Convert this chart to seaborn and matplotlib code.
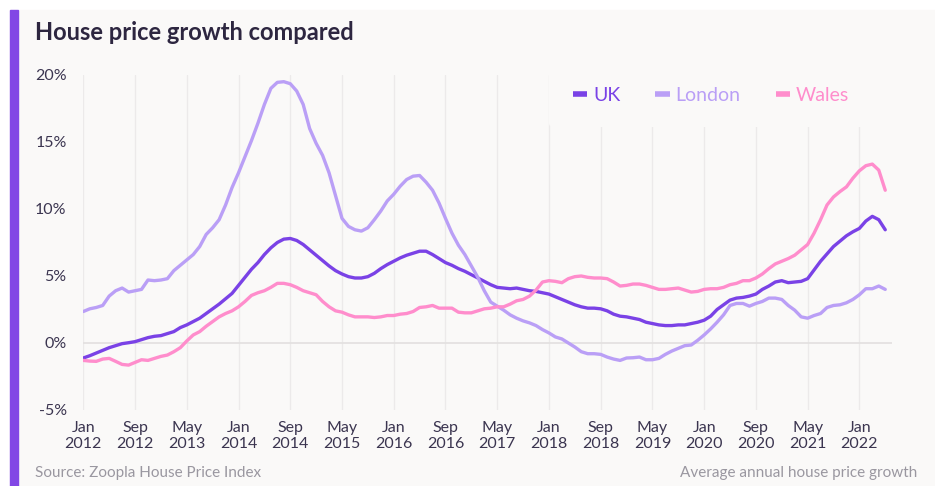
import numpy as np
import pandas as pd
import seaborn as sns
import matplotlib.pyplot as plt
from matplotlib.lines import Line2D
from matplotlib.patches import Rectangle
from matplotlib.ticker import PercentFormatter

# Annual house price growth (%), monthly from Jan 2012 to May 2022
uk = [-1.12, -0.95, -0.75, -0.55, -0.35, -0.2, -0.05, 0.02, 0.1, 0.25, 0.4, 0.5, 0.55, 0.7, 0.85,
      1.15, 1.35, 1.6, 1.85, 2.2, 2.55, 2.9, 3.3, 3.7, 4.3, 4.9, 5.5, 6.0, 6.6, 7.1, 7.5, 7.75, 7.8,
      7.65, 7.35, 6.95, 6.55, 6.15, 5.75, 5.4, 5.15, 4.95, 4.85, 4.85, 4.95, 5.2, 5.55, 5.85, 6.1,
      6.35, 6.55, 6.7, 6.85, 6.85, 6.6, 6.3, 6.0, 5.8, 5.55, 5.35, 5.1, 4.85, 4.6, 4.35, 4.15,
      4.1, 4.05, 4.1, 4.0, 3.9, 3.85, 3.75, 3.65, 3.45, 3.25, 3.05, 2.85, 2.7, 2.6, 2.6, 2.55,
      2.4, 2.15, 2.0, 1.95, 1.85, 1.75, 1.55, 1.45, 1.35, 1.3, 1.3, 1.35, 1.35, 1.45, 1.55,
      1.7, 2.0, 2.5, 2.85, 3.2, 3.35, 3.4, 3.5, 3.65, 4.0, 4.25, 4.55, 4.65, 4.5, 4.55, 4.6,
      4.8, 5.45, 6.1, 6.65, 7.2, 7.6, 8.0, 8.3, 8.55, 9.1, 9.45, 9.2, 8.45]
london = [2.35, 2.55, 2.65, 2.8, 3.5, 3.9, 4.1, 3.8, 3.9, 4.0, 4.7, 4.65, 4.7, 4.8, 5.4, 5.8,
          6.2, 6.6, 7.2, 8.1, 8.6, 9.2, 10.3, 11.6, 12.7, 13.9, 15.1, 16.4, 17.8, 19.0, 19.45,
          19.5, 19.35, 18.8, 17.8, 16.0, 14.9, 14.0, 12.7, 11.0, 9.3, 8.7, 8.45, 8.35, 8.6, 9.2,
          9.85, 10.6, 11.1, 11.7, 12.2, 12.45, 12.5, 12.0, 11.4, 10.45, 9.3, 8.2, 7.3, 6.6, 5.75,
          4.9, 3.9, 3.05, 2.75, 2.45, 2.1, 1.85, 1.65, 1.5, 1.3, 1.0, 0.75, 0.45, 0.3, 0.0, -0.3,
          -0.65, -0.8, -0.8, -0.85, -1.05, -1.2, -1.3, -1.12, -1.1, -1.05, -1.25, -1.25, -1.15,
          -0.85, -0.6, -0.4, -0.2, -0.15, 0.2, 0.6, 1.05, 1.55, 2.1, 2.8, 2.95, 2.95, 2.75, 2.95,
          3.1, 3.35, 3.35, 3.25, 2.8, 2.45, 1.95, 1.85, 2.05, 2.2, 2.65, 2.8, 2.85, 3.0, 3.25,
          3.6, 4.05, 4.05, 4.25, 4.0]
wales = [-1.3, -1.35, -1.37, -1.2, -1.15, -1.37, -1.6, -1.65, -1.45, -1.25, -1.3, -1.15, -1.0,
         -0.9, -0.65, -0.35, 0.15, 0.6, 0.85, 1.25, 1.6, 1.95, 2.2, 2.4, 2.7, 3.1, 3.55, 3.75,
         3.9, 4.15, 4.45, 4.45, 4.35, 4.15, 3.9, 3.75, 3.6, 3.1, 2.7, 2.4, 2.3, 2.1, 1.95, 1.95,
         1.95, 1.9, 1.95, 2.05, 2.05, 2.15, 2.2, 2.35, 2.65, 2.7, 2.8, 2.6, 2.6, 2.6, 2.3, 2.25,
         2.25, 2.4, 2.55, 2.6, 2.7, 2.7, 2.9, 3.15, 3.25, 3.5, 3.95, 4.55, 4.65, 4.6, 4.5, 4.8,
         4.95, 5.0, 4.9, 4.85, 4.85, 4.8, 4.55, 4.25, 4.3, 4.4, 4.4, 4.3, 4.15, 4.0, 4.0, 4.05,
         4.1, 3.95, 3.8, 3.85, 4.0, 4.05, 4.05, 4.15, 4.35, 4.45, 4.65, 4.65, 4.85, 5.15, 5.55,
         5.9, 6.1, 6.3, 6.55, 6.95, 7.35, 8.2, 9.2, 10.3, 10.9, 11.3, 11.65, 12.3, 12.85, 13.23,
         13.35, 12.9, 11.4]
regions = ["UK", "London", "Wales"]
tick_labels = ["Jan\n2012", "Sep\n2012", "May\n2013", "Jan\n2014", "Sep\n2014", "May\n2015",
               "Jan\n2016", "Sep\n2016", "May\n2017", "Jan\n2018", "Sep\n2018", "May\n2019",
               "Jan\n2020", "Sep\n2020", "May\n2021", "Jan\n2022"]

colors = {"UK": "#7a42e6", "London": "#ba9ff6", "Wales": "#ff8dcc"}
bg = "#faf9f8"
text_col = "#3b3550"

months = np.arange(len(uk))
df = pd.DataFrame({
    "month": np.tile(months, 3),
    "growth": uk + london + wales,
    "region": np.repeat(regions, len(uk)),
})

sns.set_theme(style="white")
plt.rcParams['font.family'] = ['Lato', 'DejaVu Sans']
plt.rcParams['axes.unicode_minus'] = False

fig = plt.figure(figsize=(9.35, 4.86), dpi=100)
fig.patch.set_facecolor("white")
fig.patches.append(Rectangle((18 / 935, 0), 1, 476 / 486, transform=fig.transFigure,
                             color=bg, zorder=-10))
fig.patches.append(Rectangle((10 / 935, 0), 8 / 935, 476 / 486, transform=fig.transFigure,
                             color="#8247e5", zorder=-9))

ax = fig.add_axes([0.0891, 0.1564, 0.8646, 0.6893])
ax.set_facecolor(bg)

sns.lineplot(data=df, x="month", y="growth", hue="region", palette=colors,
             linewidth=2.4, ax=ax, legend=False)

ax.set_xlim(0, 125)
ax.set_ylim(-5, 20)
ax.set_xticks(range(0, 121, 8))
ax.set_xticklabels(tick_labels)
ax.set_yticks([-5, 0, 5, 10, 15, 20])
ax.yaxis.set_major_formatter(PercentFormatter(decimals=0))
ax.tick_params(axis="both", length=0, labelsize=11.5, colors=text_col)
ax.tick_params(axis="y", pad=12)
ax.tick_params(axis="x", pad=8)
ax.set_xlabel("")
ax.set_ylabel("")
ax.grid(axis="x", color="#eceaea", linewidth=1)
ax.set_axisbelow(True)
ax.axhline(0, color="#e4e1e1", linewidth=1.3, zorder=1)
for s in ax.spines.values():
    s.set_visible(False)

handles = [Line2D([], [], color=colors[r], lw=4, solid_capstyle="butt") for r in regions]
leg = ax.legend(handles, regions, ncol=3, loc="center", bbox_to_anchor=(0.7765, 0.94),
                frameon=True, facecolor=bg, edgecolor="none", framealpha=1, fontsize=14,
                handlelength=0.75, handletextpad=0.3, columnspacing=1.8, borderpad=1.2)
for txt, r in zip(leg.get_texts(), regions):
    txt.set_color(colors[r])

fig.text(35 / 935, 1 - 33 / 486, "House price growth compared", fontsize=17,
         fontweight="bold", color="#2d2640", va="center", ha="left")
fig.text(35 / 935, 1 - 473 / 486, "Source: Zoopla House Price Index", fontsize=11,
         color="#9a97a0", va="center", ha="left")
fig.text(917 / 935, 1 - 473 / 486, "Average annual house price growth", fontsize=11,
         color="#9a97a0", va="center", ha="right")

fig.savefig("out.png", dpi=100, facecolor=fig.get_facecolor())
